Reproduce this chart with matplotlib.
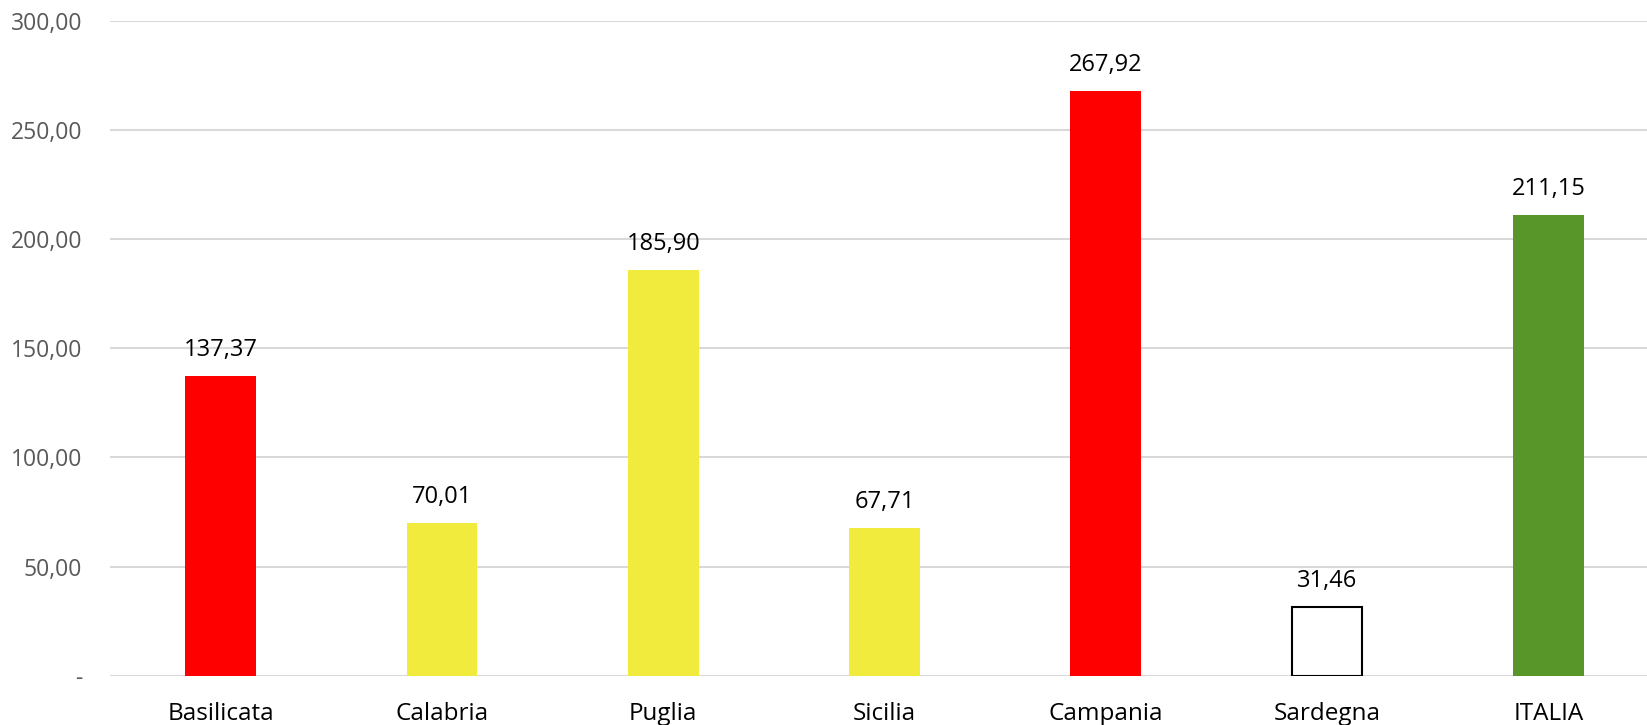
import numpy as np
import matplotlib.pyplot as plt
from matplotlib.ticker import FuncFormatter

plt.rcParams['font.family'] = ['Open Sans', 'DejaVu Sans']

# ===========================
# Data
# ===========================
regions = ["Basilicata", "Calabria", "Puglia", "Sicilia", "Campania", "Sardegna", "ITALIA"]
values = [137.37, 70.01, 185.90, 67.71, 267.92, 31.46, 211.15]
fill_colors = ["#FF0000", "#F0EB3C", "#F0EB3C", "#F0EB3C", "#FF0000", "#FFFFFF", "#58962A"]
edge_colors = ["none", "none", "none", "none", "none", "#000000", "none"]


def it_fmt(v, pos=None):
    if v == 0:
        return "-"
    return f"{v:.2f}".replace(".", ",")


fig = plt.figure(figsize=(16.47, 7.25), dpi=100)
ax = fig.add_axes([0.0668, 0.0676, 0.9405, 0.9041])

x = np.arange(len(regions))
bars = ax.bar(x, values, width=0.32, color=fill_colors, edgecolor=edge_colors,
              linewidth=1.5, zorder=3)

for xi, v in zip(x, values):
    ax.annotate(it_fmt(v), (xi, v), xytext=(0, 10), textcoords="offset points",
                ha="center", va="bottom", fontsize=17, color="black")

ax.set_xlim(-0.5, len(regions) - 0.5)
ax.set_ylim(0, 300)
ax.set_yticks(np.arange(0, 301, 50))
ax.yaxis.set_major_formatter(FuncFormatter(it_fmt))
ax.set_xticks(x)
ax.set_xticklabels(regions, fontsize=17.5, color="black")

ax.grid(axis="y", color="#D9D9D9", linewidth=1.5, zorder=0)
ax.set_axisbelow(True)
for s in ax.spines.values():
    s.set_visible(False)
ax.tick_params(axis="both", length=0)
ax.tick_params(axis="y", labelsize=16.5, labelcolor="#595959", pad=20)
ax.tick_params(axis="x", pad=19)

fig.savefig("out.png", dpi=100)
